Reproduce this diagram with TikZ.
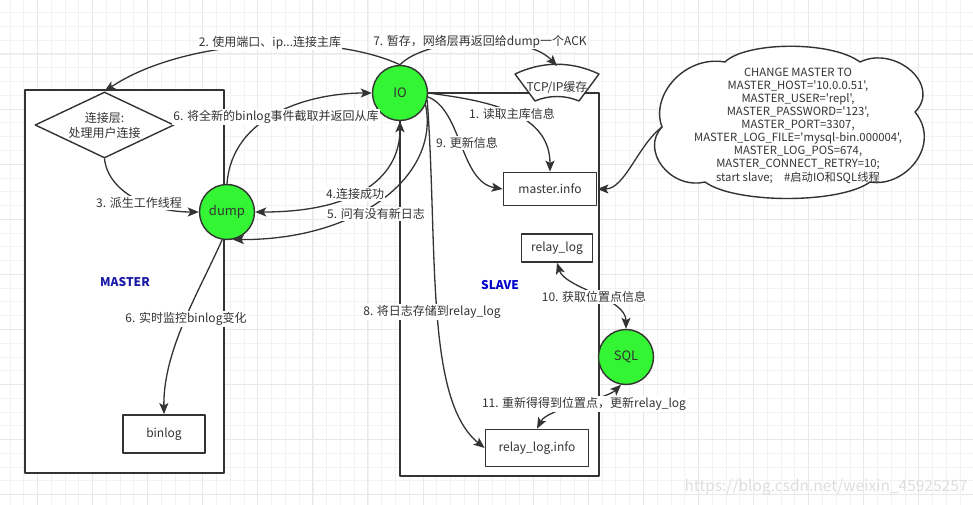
\documentclass[tikz,border=0pt]{standalone}
\usepackage{fontspec}
\newfontfamily\cjk[Ligatures=TeXOff]{Noto Sans CJK SC}
\usetikzlibrary{arrows.meta,shapes.geometric}
\definecolor{lineg}{HTML}{333333}
\definecolor{thrgreen}{HTML}{33F533}
\definecolor{mastblue}{HTML}{1A1AA6}
\definecolor{slavblue}{HTML}{0000CC}
\begin{document}
\begin{tikzpicture}[x=1pt,y=-1pt,line join=round,line cap=round,font=\cjk\fontsize{12}{14}\selectfont,>={Stealth[length=11pt,width=9pt,inset=2.5pt]},
 gridmin/.style={draw=black!5,line width=0.8pt},
 gridmaj/.style={draw=black!9,line width=1pt},
 frame/.style={draw=lineg,line width=2pt,fill=white},
 thread/.style={circle,draw=lineg,line width=1.4pt,fill=thrgreen,minimum size=55pt,inner sep=0pt,text=lineg,font=\cjk\fontsize{13}{15}\selectfont},
 store/.style={rectangle,draw=lineg,line width=1.8pt,fill=white,inner sep=0pt,text=lineg},
 flow/.style={->,draw=lineg,line width=1.3pt},
 lbl/.style={fill=white,inner sep=1pt,text=lineg},
 side/.style={font=\cjk\bfseries\fontsize{12}{14}\selectfont}]
 \useasboundingbox (0,0) rectangle (973,505);
 \fill[white] (0,0) rectangle (973,505);
 \foreach \k in {-2,...,68} \draw[gridmin] ({37.5+13.77*\k},0)--++(0,505);
 \foreach \k in {-3,...,33} \draw[gridmin] (0,{54+13.77*\k})--++(973,0);
 \foreach \k in {-1,...,17} \draw[gridmaj] ({37.5+55.08*\k},0)--++(0,505);
 \foreach \k in {-1,...,8} \draw[gridmaj] (0,{54+55.08*\k})--++(973,0);
 \draw[frame] (25,90) rectangle (224,473);
 \draw[frame] (400,93) rectangle (599,476);
 \node[side,text=mastblue] (mastername) at (125,282) {MASTER};
 \node[side,text=slavblue] (slavename) at (500,285) {SLAVE};
 \node[diamond,draw=lineg,line width=1.4pt,fill=white,aspect=2.1,minimum width=139pt,minimum height=66pt,inner sep=0pt,align=center,text=lineg,font=\cjk\fontsize{12}{15}\selectfont] (conn) at (104.5,125) {连接层:\\处理用户连接};
 \node[thread] (dump) at (227,212) {dump};
 \node[thread] (io) at (400,93) {IO};
 \node[thread] (sql) at (626,357) {SQL};
 \node[store,minimum width=82pt,minimum height=38pt] (blog) at (164,434) {binlog};
 \node[store,minimum width=93pt,minimum height=33pt] (minfo) at (550,189) {master.info};
 \node[store,minimum width=71pt,minimum height=28pt] (rlog) at (557,248) {relay\_log};
 \node[store,minimum width=103pt,minimum height=37pt] (rinfo) at (537,448) {relay\_log.info};
 \draw[store,line width=1.4pt] (515,74) .. controls (543,61) and (571,61) .. (599,74) -- (579,101) .. controls (565,95) and (549,95) .. (535,101) -- cycle;
 \node[text=lineg] (tcp) at (557,88) {TCP/IP缓存};
 \coordinate (tcptop) at (557,66);
 \coordinate (cfgwest) at (662,127);
 \draw[lineg,line width=1.4pt,fill=white] (cfgwest) .. controls (650,95) and (685,55) .. (725,62)
  .. controls (745,42) and (830,40) .. (860,62) .. controls (895,45) and (942,85) .. (915,112)
  .. controls (942,145) and (905,188) .. (870,182) .. controls (840,204) and (735,204) .. (705,182)
  .. controls (670,190) and (640,150) .. (cfgwest) -- cycle;
 \node[align=center,text=lineg,font=\cjk\fontsize{11.3}{13.1}\selectfont] (cfgtext) at (798,125.5) {CHANGE MASTER TO\\MASTER\_HOST='10.0.0.51',\\MASTER\_USER='repl',\\MASTER\_PASSWORD='123',\\MASTER\_PORT=3307,\\MASTER\_LOG\_FILE='mysql-bin.000004',\\MASTER\_LOG\_POS=674,\\MASTER\_CONNECT\_RETRY=10;\\start slave;\quad\#启动IO和SQL线程};
 \draw[flow] (io.north) .. controls (330,32) and (185,38) .. (conn.north);
 \draw[flow] (io.north) .. controls (425,38) and (525,32) .. (tcptop);
 \draw[flow] (io.east) .. controls (480,100) and (550,110) .. (minfo.north);
 \draw[flow] (io.-8) .. controls (462,110) and (460,182) .. (minfo.west);
 \draw[flow] (io.-15) .. controls (438,250) and (425,400) .. (rinfo.west);
 \draw[flow] (io.-25) .. controls (440,175) and (360,240) .. (dump.-78);
 \draw[flow,<->] (io.south) .. controls (400,175) and (360,212) .. (dump.east);
 \draw[flow] (dump.north) .. controls (232,115) and (310,93) .. (io.west);
 \draw[flow] (conn.south) .. controls (108,192) and (150,212) .. (dump.west);
 \draw[flow] (dump.-100) .. controls (200,290) and (163,350) .. (blog.north);
 \draw[flow,<->] (rlog.south) .. controls (565,288) and (626,298) .. (sql.north);
 \draw[flow,<->] (sql.-100) .. controls (605,400) and (548,408) .. (rinfo.north);
 \draw[flow] (cfgwest) .. controls (638,145) and (625,189) .. (minfo.east);
 \node[lbl] (l2) at (270,43) {2. 使用端口、ip...连接主库};
 \node[lbl] (l7) at (480,42) {7. 暂存，网络层再返回给dump一个ACK};
 \node[lbl] (l6a) at (276,117) {6. 将全新的binlog事件截取并返回从库};
 \node[lbl] (l3) at (139,203) {3. 派生工作线程};
 \node[lbl] (l4) at (355,194) {4.连接成功};
 \node[lbl] (l5) at (376,214) {5. 问有没有新日志};
 \node[lbl] (l1) at (512,114) {1. 读取主库信息};
 \node[lbl] (l9) at (467,143) {9. 更新信息};
 \node[lbl] (l6b) at (186,319) {6. 实时监控binlog变化};
 \node[lbl] (l8) at (432,312) {8. 将日志存储到relay\_log};
 \node[lbl] (l10) at (594,297) {10. 获取位置点信息};
 \node[lbl] (l11) at (584,404) {11. 重新得得到位置点，更新relay\_log};
 \node[text=black!13,font=\cjk\fontsize{15.5}{17}\selectfont] (wmark) at (826,487) {https://blog.csdn.net/weixin\_45925257};
\end{tikzpicture}
\end{document}
